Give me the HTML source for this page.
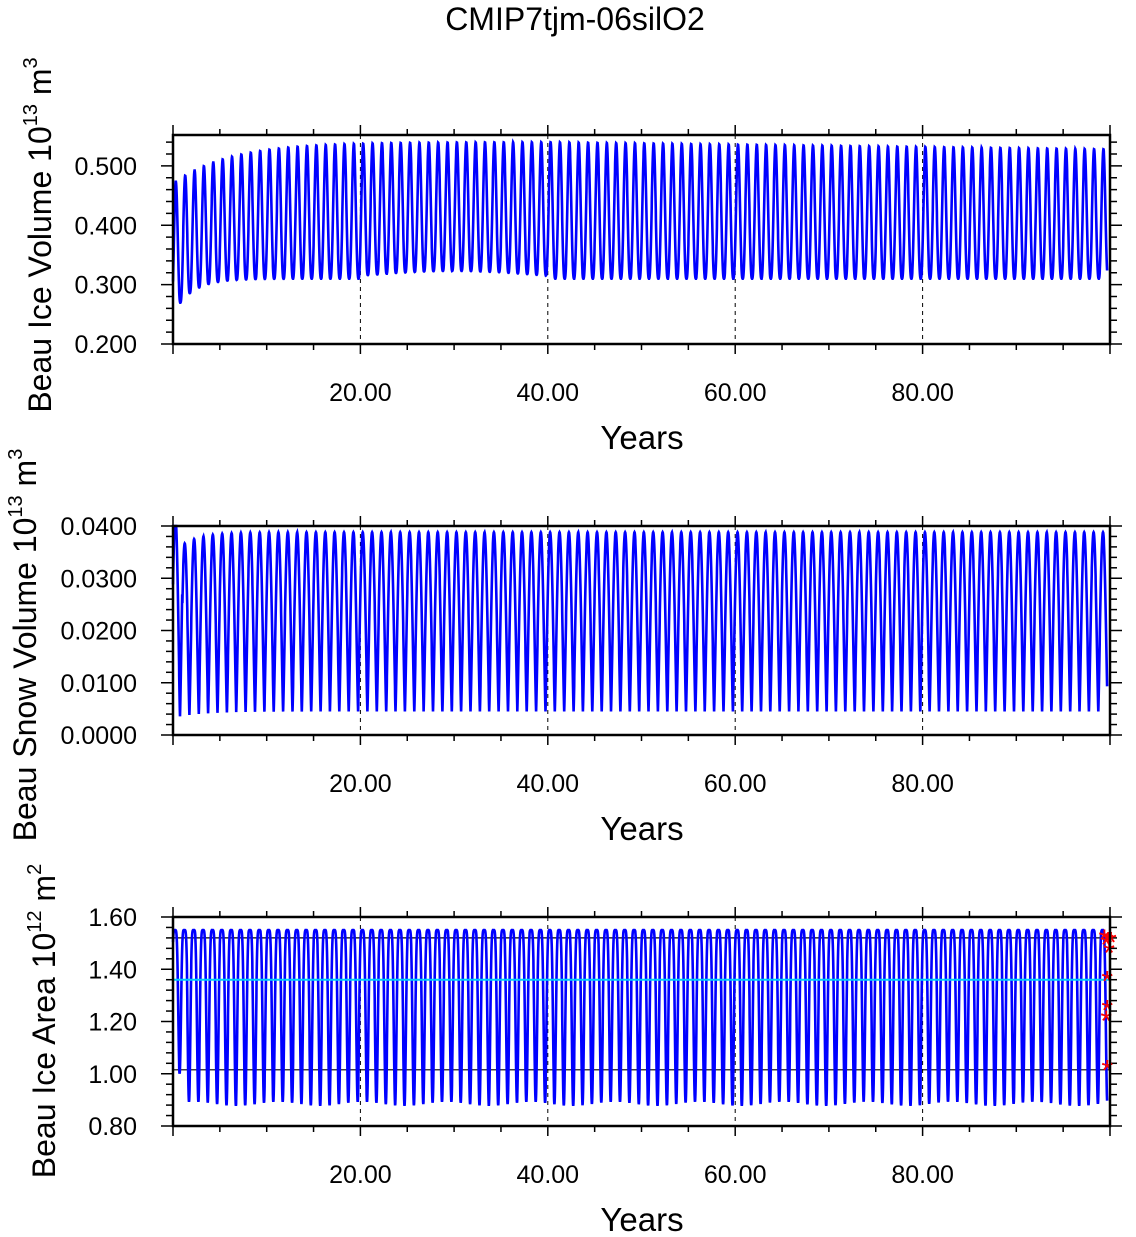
<!DOCTYPE html>
<html><head><meta charset="utf-8"><style>body{margin:0;background:#fff}svg{display:block;font-family:"Liberation Sans",sans-serif}</style></head>
<body>
<svg id="s" width="1136" height="1237" xmlns="http://www.w3.org/2000/svg">
<text x="575" y="30" font-size="32" text-anchor="middle">CMIP7tjm-06silO2</text>
</svg>
<script>
const S=document.getElementById('s');const NS='http://www.w3.org/2000/svg';
function el(t,a,txt){const e=document.createElementNS(NS,t);for(const k in a)e.setAttribute(k,a[k]);if(txt!==undefined)e.textContent=txt;S.appendChild(e);return e;}
const X0=173,X1=1110;const xs=v=>X0+(X1-X0)*v/100;
function panel(top,ymin,ymax,majors,minorStep,fmt,title,supTxt,unit,series,extra){
 const bot=top+209;const ys=v=>bot-(v-ymin)/(ymax-ymin)*209;
 for(let y=0;y<=100;y+=5){const x=xs(y);const maj=y%20==0;const L=maj?10:6;
  el('line',{x1:x,x2:x,y1:top,y2:top-L,stroke:'#000','stroke-width':1.5});
  el('line',{x1:x,x2:x,y1:bot,y2:bot+L,stroke:'#000','stroke-width':1.5});
  if(maj&&y>0&&y<100){el('line',{x1:x,x2:x,y1:top,y2:bot,stroke:'#000','stroke-width':1,'stroke-dasharray':'4,4'});
   el('text',{x:x,y:bot+57,'font-size':25,'text-anchor':'middle'},y.toFixed(2));}}
 for(let v=ymin;v<=ymax+1e-9;v+=minorStep){const y=ys(v);
  const maj=majors.some(m=>Math.abs(m-v)<1e-9);const L=maj?12:7;
  el('line',{x1:X0,x2:X0-L,y1:y,y2:y,stroke:'#000','stroke-width':1.5});
  el('line',{x1:X1,x2:X1+L,y1:y,y2:y,stroke:'#000','stroke-width':1.5});}
 majors.forEach(m=>el('text',{x:X0-36,y:ys(m)+9,'font-size':25,'text-anchor':'end'},fmt(m)));
 if(extra)extra(ys);
 let p=[];for(let i=0;i<=4785;i++){const t=i/48;p.push(xs(t).toFixed(1)+','+Math.max(top,ys(series(t))).toFixed(1));}
 el('polyline',{points:p.join(' '),fill:'none',stroke:'#0000ff','stroke-width':2.6});
 if(extra&&extra.after)extra.after(ys);
 el('rect',{x:X0,y:top,width:X1-X0,height:209,fill:'none',stroke:'#000','stroke-width':2.5});
 el('text',{x:642,y:bot+105,'font-size':33,'text-anchor':'middle'},'Years');
 const cy=top+104+title[2];const g=el('text',{transform:`translate(${title[1]},${cy}) rotate(-90)`,'font-size':32,'text-anchor':'middle'});
 g.innerHTML=title[0]+' 10<tspan dy="-14" font-size="20">'+supTxt+'</tspan><tspan dy="14"> m</tspan><tspan dy="-14" font-size="20">'+unit+'</tspan>';
}
function wave(t){return Math.cos(2*Math.PI*((t%1)-0.3));}
panel(135,0.2,0.552,[0.2,0.3,0.4,0.5],0.02,v=>v.toFixed(3),['Beau Ice Volume',51,-4],'13','3',t=>{
 let mx=Math.min(0.545,0.47+0.07*(1-Math.exp(-t/6)));if(t>40)mx=0.54-0.0002*(t-40);
 let mn=0.31-0.06*Math.exp(-t/2);if(t>20&&t<40)mn=0.315+0.008*Math.sin((t-20)/20*Math.PI);
 const f=(wave(t)+1)/2;return mn+(mx-mn)*Math.pow(f,1.3);});
panel(526,0,0.04,[0,0.01,0.02,0.03,0.04],0.002,v=>v.toFixed(4),['Beau Snow Volume',36,15],'13','3',t=>{
 let mx=t<1?0.042:0.0388-0.004*Math.exp(-t/2);let mn=0.0045-0.0012*Math.exp(-t/3);
 const c=Math.cos(2*Math.PI*((t%1)-0.25));const f=Math.pow((c+1)/2,0.6);return mn+(mx-mn)*f;});
const stars=[[99.4,1.52],[99.6,1.50],[99.8,1.51],[100.1,1.51],[99.9,1.47],[99.7,1.36],[99.7,1.25],[99.6,1.21],[99.7,1.02]];
const ex=ys=>{[1.52,1.015].forEach(v=>el('line',{x1:X0,x2:X1,y1:ys(v),y2:ys(v),stroke:'#000','stroke-width':1.2}));};
ex.after=ys=>{el('line',{x1:X0,x2:X1,y1:ys(1.36),y2:ys(1.36),stroke:'#00ccff','stroke-width':2});
 stars.forEach(([a,b])=>{const x=xs(a),y=ys(b);el('text',{x:x,y:y+12,'font-size':30,fill:'#ff0000','text-anchor':'middle'},'*');});};
panel(917,0.8,1.6,[0.8,1.0,1.2,1.4,1.6],0.04,v=>v.toFixed(2),['Beau Ice Area',55,0],'12','2',t=>{
 let mn=0.885+0.008*Math.sin(t*0.7);if(t<1.5)mn=1.0;
 const c=Math.cos(2*Math.PI*((t%1)-0.20833));const f=(c+1)/2;const g=1-Math.pow(1-f,2.5);return mn+(1.55-mn)*g;},ex);
</script>
</body></html>
